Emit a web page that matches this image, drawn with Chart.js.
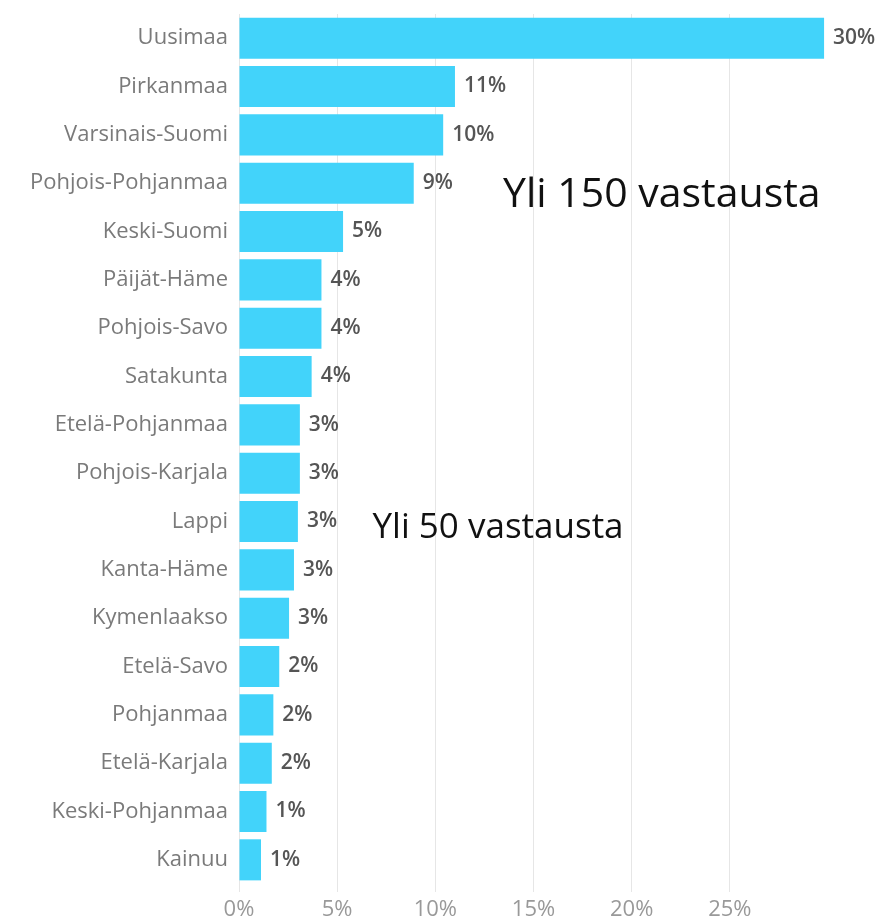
<!DOCTYPE html>
<html>
    <head>
        <meta charset="utf-8">
        <title>Maakunnat</title>
        <script src="https://cdn.jsdelivr.net/npm/chart.js@4.4.1/dist/chart.umd.min.js"></script>
        <style>
            body { margin: 0; background: #fff; }
            #wrap { width: 884px; height: 924px; position: relative; }
        </style>
    </head>
    <body>
        <div id="wrap"><canvas id="myChart"></canvas></div>

        <script>
            // regions and share of answers (%)
            const regions = ['Uusimaa', 'Pirkanmaa', 'Varsinais-Suomi', 'Pohjois-Pohjanmaa', 'Keski-Suomi',
                'Päijät-Häme', 'Pohjois-Savo', 'Satakunta', 'Etelä-Pohjanmaa', 'Pohjois-Karjala', 'Lappi',
                'Kanta-Häme', 'Kymenlaakso', 'Etelä-Savo', 'Pohjanmaa', 'Etelä-Karjala', 'Keski-Pohjanmaa', 'Kainuu'];
            const shares = [29.8, 11.0, 10.4, 8.9, 5.3, 4.2, 4.2, 3.7, 3.1, 3.1, 3.0, 2.8, 2.55, 2.05, 1.75, 1.67, 1.4, 1.12];
            const xTicks = [0, 5, 10, 15, 20, 25];
            const notes = ['Yli 150 vastausta', 'Yli 50 vastausta'];

            // percentage text next to each bar
            const valueLabels = {
                id: 'valueLabels',
                afterDatasetsDraw(chart) {
                    const ctx = chart.ctx;
                    const meta = chart.getDatasetMeta(0);
                    ctx.save();
                    ctx.font = '600 21px "Open Sans"';
                    ctx.fillStyle = '#555';
                    ctx.textAlign = 'left';
                    ctx.textBaseline = 'middle';
                    meta.data.forEach(function(bar, i) {
                        ctx.fillText(Math.round(shares[i]) + '%', bar.x + 9, bar.y);
                    });
                    ctx.restore();
                }
            };

            // the two big notes
            const notesPlugin = {
                id: 'notes',
                afterDraw(chart) {
                    const ctx = chart.ctx;
                    const x = chart.scales.x, y = chart.scales.y;
                    ctx.save();
                    ctx.fillStyle = '#111';
                    ctx.textAlign = 'left';
                    ctx.textBaseline = 'alphabetic';
                    ctx.font = '41px "Open Sans"';
                    ctx.fillText(notes[0], x.getPixelForValue(13.45), y.getPixelForValue(3) + 24);
                    ctx.font = '35px "Open Sans"';
                    ctx.fillText(notes[1], x.getPixelForValue(6.8), y.getPixelForValue(10) + 16);
                    ctx.restore();
                }
            };

            const ctx = document.getElementById('myChart');
            const myChart = new Chart(ctx, {
                type: 'bar',
                data: {
                    labels: regions,
                    datasets: [{
                        data: shares,
                        backgroundColor: '#42d3fa',
                        borderWidth: 0,
                        categoryPercentage: 1,
                        barPercentage: 0.85
                    }]
                },
                options: {
                    indexAxis: 'y',
                    responsive: true,
                    maintainAspectRatio: false,
                    animation: false,
                    layout: { padding: { top: 14, right: 56, left: 0, bottom: 0 } },
                    plugins: {
                        legend: { display: false },
                        tooltip: { enabled: false }
                    },
                    scales: {
                        x: {
                            min: 0,
                            max: 30,
                            afterBuildTicks: function(axis) {
                                axis.ticks = xTicks.concat([30]).map(v => ({ value: v }));
                            },
                            border: { display: false },
                            grid: {
                                color: c => (c.tick && c.tick.value === 30) ? 'rgba(0,0,0,0)' : '#e6e6e6',
                                drawTicks: true,
                                tickLength: 8
                            },
                            ticks: {
                                padding: 5,
                                color: '#999',
                                font: { family: 'Open Sans', size: 22 },
                                callback: v => v === 30 ? '' : v + '%'
                            },
                            afterFit: function(axis) { axis.height = 40; }
                        },
                        y: {
                            border: { display: false },
                            grid: { display: false, drawTicks: false },
                            ticks: {
                                padding: 11,
                                color: '#7a7a7a',
                                font: { family: 'Open Sans', size: 22 }
                            },
                            afterFit: function(axis) {
                                axis.width = 239;
                                axis.paddingTop = 0;
                                axis.paddingBottom = 0;
                            }
                        }
                    }
                },
                plugins: [valueLabels, notesPlugin]
            });
        </script>
    </body>
</html>
